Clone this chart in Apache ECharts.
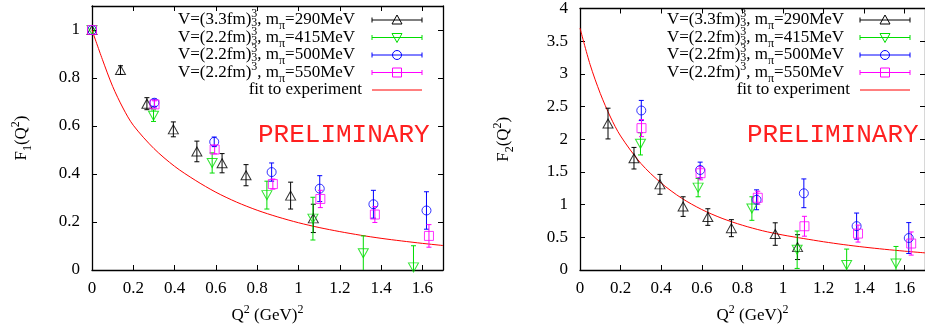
<!DOCTYPE html>
<html>
<head>
<meta charset="utf-8">
<script src="https://cdn.jsdelivr.net/npm/echarts@6/dist/echarts.min.js"></script>
<style>
  html, body { margin: 0; padding: 0; background: #fff; }
  #main { width: 925px; height: 331px; }
</style>
</head>
<body>
<div id="main"></div>
<script>
// Q^2 values (GeV^2) for each lattice ensemble, first entry is Q^2 = 0
var q2_290 = [0, 0.138, 0.266, 0.394, 0.508, 0.63, 0.746, 0.962, 1.072];
var q2_415 = [0, 0.298, 0.582, 0.847, 1.07, 1.314, 1.557];
var q2_500 = [0, 0.302, 0.592, 0.87, 1.103, 1.363, 1.62];
var q2_550 = [0, 0.303, 0.594, 0.876, 1.106, 1.37, 1.632];

// F1
var F1_290 = [1, 0.833, 0.693, 0.586, 0.494, 0.445, 0.395, 0.31, 0.215];
var F1_290_err = [0, 0.018, 0.025, 0.031, 0.043, 0.04, 0.044, 0.056, 0.059];
var F1_415 = [1, 0.643, 0.446, 0.312, 0.214, 0.07, 0.011];
var F1_415_err = [0, 0.024, 0.042, 0.058, 0.089, 0.072, 0.09];
var F1_500 = [1, 0.697, 0.534, 0.408, 0.339, 0.274, 0.248];
var F1_500_err = [0, 0.015, 0.02, 0.038, 0.054, 0.058, 0.078];
var F1_550 = [1, 0.69, 0.502, 0.358, 0.296, 0.231, 0.142];
var F1_550_err = [0, 0.015, 0.018, 0.021, 0.036, 0.033, 0.047];

// F2 (not measured at Q^2 = 0)
var F2_290 = [null, 2.24, 1.71, 1.31, 0.97, 0.81, 0.64, 0.55, 0.35];
var F2_290_err = [null, 0.235, 0.165, 0.152, 0.15, 0.127, 0.13, 0.172, 0.19];
var F2_415 = [null, 1.93, 1.26, 0.94, 0.31, 0.076, 0.1];
var F2_415_err = [null, 0.17, 0.14, 0.18, 0.286, 0.244, 0.26];
var F2_500 = [null, 2.44, 1.53, 1.074, 1.173, 0.671, 0.489];
var F2_500_err = [null, 0.154, 0.12, 0.152, 0.22, 0.2, 0.236];
var F2_550 = [null, 2.17, 1.48, 1.105, 0.669, 0.557, 0.405];
var F2_550_err = [null, 0.13, 0.1, 0.1, 0.152, 0.13, 0.177];

// fit to experiment
var fitQ2 = [0, 0.05, 0.1, 0.15, 0.2, 0.3, 0.4, 0.5, 0.6, 0.7, 0.8, 0.9, 1.0, 1.1, 1.2, 1.3, 1.4, 1.5, 1.6, 1.7];
var fitF1 = [1, 0.878, 0.765, 0.675, 0.603, 0.506, 0.432, 0.374, 0.324, 0.283, 0.249, 0.221, 0.197, 0.177, 0.16, 0.145, 0.132, 0.121, 0.111, 0.102];
var fitF2 = [3.7, 3.14, 2.7, 2.34, 2.05, 1.63, 1.33, 1.1, 0.925, 0.79, 0.685, 0.6, 0.535, 0.482, 0.432, 0.388, 0.35, 0.317, 0.288, 0.262];

var legendVol = ['V=(3.3fm)', 'V=(2.2fm)', 'V=(2.2fm)', 'V=(2.2fm)'];
var legendMass = ['290MeV', '415MeV', '500MeV', '550MeV'];
var legendFit = 'fit to experiment';
var stamp = 'PRELIMINARY';

var SERIF = 'Liberation Serif';
var ens = [
  { q2: q2_290, f1: F1_290, f1e: F1_290_err, f2: F2_290, f2e: F2_290_err, color: '#000000', marker: 'up' },
  { q2: q2_415, f1: F1_415, f1e: F1_415_err, f2: F2_415, f2e: F2_415_err, color: '#00dd00', marker: 'down' },
  { q2: q2_500, f1: F1_500, f1e: F1_500_err, f2: F2_500, f2e: F2_500_err, color: '#0000ff', marker: 'circle' },
  { q2: q2_550, f1: F1_550, f1e: F1_550_err, f2: F2_550, f2e: F2_550_err, color: '#ff00ff', marker: 'square' }
];

function pts(xs, ys) {
  var out = [];
  for (var i = 0; i < xs.length; i++) if (ys[i] != null) out.push([xs[i], ys[i]]);
  return out;
}

function scatter(xi, yi, e, ys) {
  var s = { type: 'scatter', xAxisIndex: xi, yAxisIndex: yi, data: pts(e.q2, ys), z: 3,
    itemStyle: { color: 'rgba(0,0,0,0)', borderColor: e.color, borderWidth: 1 } };
  if (e.marker == 'up') { s.symbol = 'triangle'; s.symbolSize = [10, 9]; }
  if (e.marker == 'down') { s.symbol = 'triangle'; s.symbolSize = [10, 9]; s.symbolRotate = 180; }
  if (e.marker == 'circle') { s.symbol = 'circle'; s.symbolSize = 9; }
  if (e.marker == 'square') { s.symbol = 'rect'; s.symbolSize = 9; }
  return s;
}

function errorBars(xi, yi, e, ys, es) {
  var data = [];
  for (var i = 0; i < e.q2.length; i++) {
    if (ys[i] == null || !es[i]) continue;
    data.push([e.q2[i], ys[i] - es[i], ys[i] + es[i]]);
  }
  return {
    type: 'custom', xAxisIndex: xi, yAxisIndex: yi, data: data, z: 2,
    encode: { x: 0, y: [1, 2] },
    renderItem: function (params, api) {
      var cs = params.coordSys;
      var lo = api.coord([api.value(0), api.value(1)]);
      var hi = api.coord([api.value(0), api.value(2)]);
      var bottom = cs.y + cs.height;
      var st = { stroke: e.color, lineWidth: 1 };
      var kids = [];
      var loCap = true;
      if (lo[1] > bottom) { lo[1] = bottom; loCap = false; }
      kids.push({ type: 'line', shape: { x1: lo[0], y1: lo[1], x2: hi[0], y2: hi[1] }, style: st });
      kids.push({ type: 'line', shape: { x1: hi[0] - 2.5, y1: hi[1], x2: hi[0] + 2.5, y2: hi[1] }, style: st });
      if (loCap) kids.push({ type: 'line', shape: { x1: lo[0] - 2.5, y1: lo[1], x2: lo[0] + 2.5, y2: lo[1] }, style: st });
      return { type: 'group', children: kids };
    }
  };
}

function fitLine(xi, yi, ys) {
  return { type: 'line', xAxisIndex: xi, yAxisIndex: yi, data: pts(fitQ2, ys), z: 1,
    showSymbol: false, smooth: 0.3,
    lineStyle: { color: '#ff0000', width: 1 } };
}

var richTxt = {
  a: { fontFamily: SERIF, fontSize: 17, lineHeight: 24, color: '#000', verticalAlign: 'middle' },
  sup: { fontFamily: SERIF, fontSize: 12, lineHeight: 14, color: '#000', verticalAlign: 'top' },
  sub: { fontFamily: SERIF, fontSize: 12, lineHeight: 12, color: '#000', verticalAlign: 'bottom' }
};

function xAxes(gi, name) {
  var line = { onZero: false, lineStyle: { color: '#000', width: 1.3 } };
  var tick = { inside: true, length: 5, lineStyle: { color: '#000', width: 1 } };
  return [
    { type: 'value', gridIndex: gi, position: 'bottom', min: 0, max: 1.7, interval: 0.2,
      axisLine: line, axisTick: tick, splitLine: { show: false },
      axisLabel: { fontFamily: SERIF, fontSize: 17, color: '#000', margin: 10, showMaxLabel: false },
      name: name, nameLocation: 'middle', nameGap: 34, nameTextStyle: { rich: richTxt } },
    { type: 'value', gridIndex: gi, position: 'top', min: 0, max: 1.7, interval: 0.2,
      axisLine: line, axisTick: tick, splitLine: { show: false }, axisLabel: { show: false } }
  ];
}

function yAxes(gi, max, interval, name, gap, hideMax) {
  var line = { onZero: false, lineStyle: { color: '#000', width: 1.3 } };
  var tick = { inside: true, length: 5, lineStyle: { color: '#000', width: 1 } };
  return [
    { type: 'value', gridIndex: gi, position: 'left', min: 0, max: max, interval: interval,
      axisLine: line, axisTick: tick, splitLine: { show: false },
      axisLabel: { fontFamily: SERIF, fontSize: 17, color: '#000', margin: 12, showMaxLabel: !hideMax },
      name: name, nameLocation: 'middle', nameGap: gap, nameTextStyle: { rich: richTxt } },
    { type: 'value', gridIndex: gi, position: 'right', min: 0, max: max, interval: interval,
      axisLine: line, axisTick: tick, splitLine: { show: false }, axisLabel: { show: false } }
  ];
}

// legend drawn by hand (gnuplot style key with error-bar samples)
var mctx = document.createElement('canvas').getContext('2d');
mctx.font = '17px "' + SERIF + '"';
var volW = mctx.measureText(legendVol[0]).width;
var rowY = [20, 37.5, 55, 72.5, 90];

function markerShape(m, cx, cy, color) {
  var st = { fill: 'none', stroke: color, lineWidth: 1 };
  if (m == 'up') return { type: 'polygon', shape: { points: [[cx - 5, cy + 4], [cx + 5, cy + 4], [cx, cy - 5]] }, style: st };
  if (m == 'down') return { type: 'polygon', shape: { points: [[cx - 5, cy - 4], [cx + 5, cy - 4], [cx, cy + 5]] }, style: st };
  if (m == 'circle') return { type: 'circle', shape: { cx: cx, cy: cy, r: 4.5 }, style: st };
  return { type: 'rect', shape: { x: cx - 4.5, y: cy - 4.5, width: 9, height: 9 }, style: st };
}

function legendEls(x0, lx0, lx1) {
  var els = [];
  ens.forEach(function (e, i) {
    var y = rowY[i];
    els.push({ type: 'text', x: x0, y: y, z: 10, style: {
      text: '{a|' + legendVol[i] + '}{sup|3}{a|, m}{sub|π}{a|=' + legendMass[i] + '}',
      rich: richTxt, align: 'left', verticalAlign: 'middle' } });
    if (i < 3) {
      els.push({ type: 'text', x: x0 + volW, y: y + 3, z: 10, style: {
        text: '3', fontFamily: SERIF, fontSize: 12, fill: '#000', align: 'left', verticalAlign: 'middle' } });
    }
    var st = { stroke: e.color, lineWidth: 1 };
    els.push({ type: 'line', z: 10, shape: { x1: lx0, y1: y, x2: lx1, y2: y }, style: st });
    els.push({ type: 'line', z: 10, shape: { x1: lx0, y1: y - 2.5, x2: lx0, y2: y + 2.5 }, style: st });
    els.push({ type: 'line', z: 10, shape: { x1: lx1, y1: y - 2.5, x2: lx1, y2: y + 2.5 }, style: st });
    var mk = markerShape(e.marker, (lx0 + lx1) / 2, y, e.color);
    mk.z = 10;
    els.push(mk);
  });
  els.push({ type: 'text', x: lx0 - 10, y: rowY[4], z: 10, style: {
    text: legendFit, fontFamily: SERIF, fontSize: 17, fill: '#000', align: 'right', verticalAlign: 'middle' } });
  els.push({ type: 'line', z: 10, shape: { x1: lx0, y1: rowY[4], x2: lx1, y2: rowY[4] }, style: { stroke: '#ff0000', lineWidth: 1 } });
  return els;
}

function stampEl(x) {
  return { type: 'text', x: x, y: 135, z: 10, style: {
    text: stamp, fontFamily: 'Liberation Mono', fontSize: 26, fill: '#ff2020',
    align: 'left', verticalAlign: 'middle' } };
}

var series = [];
ens.forEach(function (e) {
  series.push(errorBars(0, 0, e, e.f1, e.f1e));
  series.push(scatter(0, 0, e, e.f1));
  series.push(errorBars(2, 2, e, e.f2, e.f2e));
  series.push(scatter(2, 2, e, e.f2));
});
series.push(fitLine(0, 0, fitF1));
series.push(fitLine(2, 2, fitF2));

var chart = echarts.init(document.getElementById('main'), null, { renderer: 'canvas' });
chart.setOption({
  animation: false,
  backgroundColor: '#fff',
  grid: [
    { left: 92, top: 6, width: 351, height: 264 },
    { left: 580, top: 7, width: 353, height: 263 }
  ],
  xAxis: xAxes(0, '{a|Q}{sup|2}{a| (GeV)}{sup|2}').concat(xAxes(1, '{a|Q}{sup|2}{a| (GeV)}{sup|2}')),
  yAxis: yAxes(0, 1.1, 0.2, '{a|F}{sub|1}{a|(Q}{sup|2}{a|)}', 58, true)
    .concat(yAxes(1, 4, 0.5, '{a|F}{sub|2}{a|(Q}{sup|2}{a|)}', 64, false)),
  series: series,
  graphic: legendEls(178, 372, 422).concat(legendEls(667, 860, 910)).concat([stampEl(258), stampEl(747)])
});
</script>
</body>
</html>
